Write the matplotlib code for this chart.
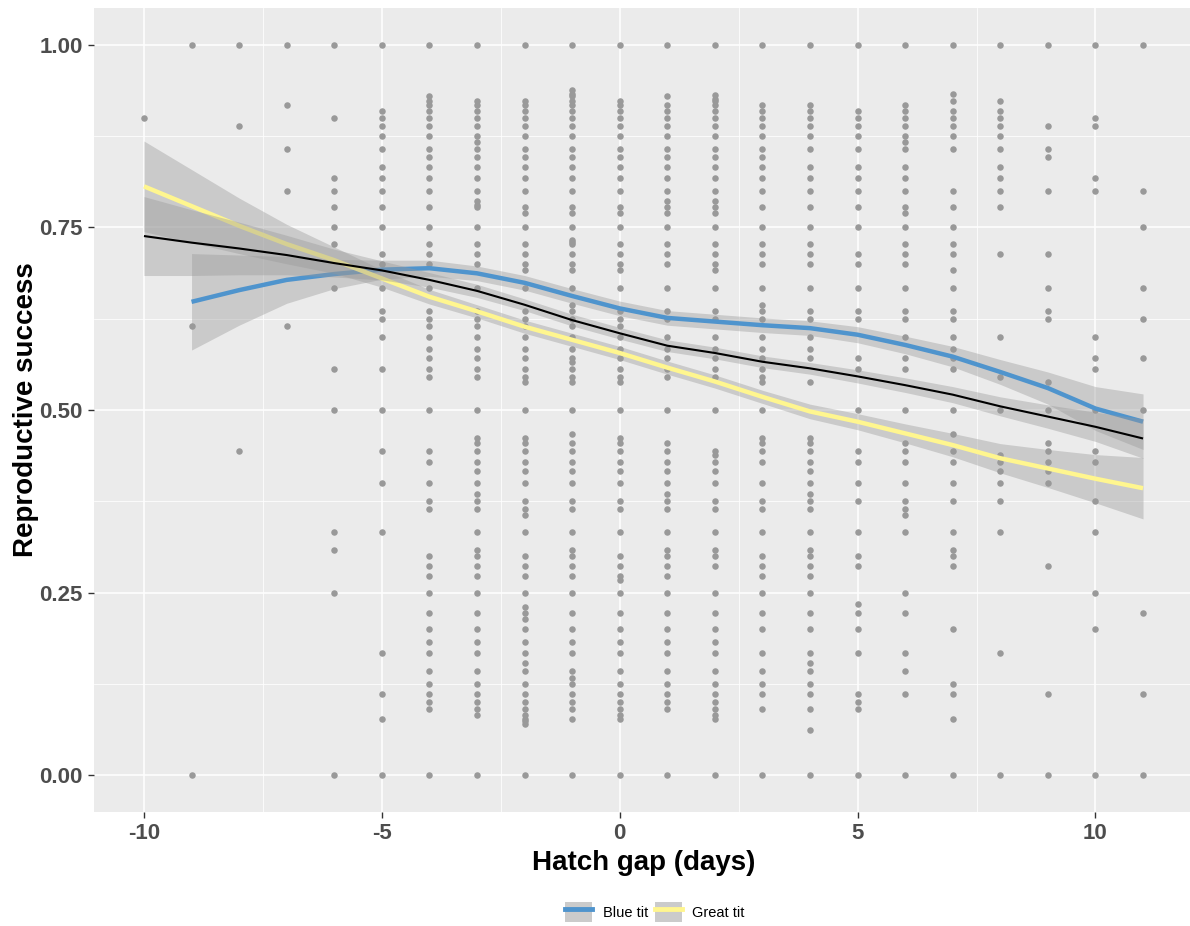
import numpy as np
import matplotlib
matplotlib.use('Agg')
import matplotlib.pyplot as plt
from matplotlib.patches import Patch
from matplotlib.lines import Line2D

plt.rcParams['font.family'] = ['Liberation Sans', 'DejaVu Sans']
plt.rcParams['axes.unicode_minus'] = False

#--------------------------------------------------------------------------------------------
# Raw points: reproductive success for each hatch gap (days)
gap_m10 = [0.9]
gap_m9 = [1.0, 0.615, 0.0]
gap_m8 = [1.0, 0.889, 0.444]
gap_m7 = [1.0, 0.917, 0.857, 0.8, 0.615]
gap_m6 = [1.0, 0.9, 0.818, 0.8, 0.778, 0.75, 0.727, 0.667, 0.556, 0.5, 0.333, 0.308, 0.25, 0.0]
gap_m5 = [1.0, 0.909, 0.9, 0.889, 0.875, 0.857, 0.833, 0.818, 0.8, 0.778, 0.75, 0.714, 0.7, 0.667,
          0.636, 0.625, 0.6, 0.556, 0.5, 0.444, 0.4, 0.333, 0.167, 0.111, 0.077, 0.0]
gap_m4 = [1.0, 0.929, 0.923, 0.917, 0.909, 0.9, 0.889, 0.875, 0.857, 0.846, 0.833, 0.818, 0.8, 0.778,
          0.75, 0.727, 0.714, 0.7, 0.667, 0.636, 0.625, 0.615, 0.6, 0.583, 0.571, 0.556, 0.545, 0.5,
          0.444, 0.429, 0.4, 0.375, 0.364, 0.3, 0.286, 0.273, 0.25, 0.222, 0.2, 0.182, 0.167, 0.143,
          0.125, 0.111, 0.1, 0.091, 0.0]
gap_m3 = [1.0, 0.923, 0.917, 0.909, 0.9, 0.889, 0.875, 0.867, 0.857, 0.846, 0.833, 0.818, 0.8, 0.786,
          0.78, 0.778, 0.75, 0.727, 0.714, 0.7, 0.667, 0.636, 0.625, 0.615, 0.6, 0.583, 0.571, 0.556,
          0.545, 0.5, 0.462, 0.455, 0.444, 0.429, 0.417, 0.4, 0.385, 0.375, 0.364, 0.333, 0.308, 0.3,
          0.286, 0.273, 0.25, 0.222, 0.2, 0.182, 0.167, 0.143, 0.125, 0.111, 0.1, 0.091, 0.083, 0.0]
gap_m2 = [1.0, 0.923, 0.917, 0.909, 0.9, 0.889, 0.875, 0.857, 0.846, 0.833, 0.818, 0.8, 0.778, 0.769,
          0.75, 0.727, 0.714, 0.7, 0.692, 0.667, 0.636, 0.625, 0.615, 0.6, 0.583, 0.571, 0.556, 0.545,
          0.538, 0.5, 0.462, 0.455, 0.444, 0.429, 0.417, 0.4, 0.375, 0.364, 0.357, 0.333, 0.3, 0.286,
          0.273, 0.25, 0.231, 0.222, 0.214, 0.2, 0.182, 0.167, 0.154, 0.143, 0.125, 0.111, 0.1, 0.091,
          0.083, 0.077, 0.074, 0.071, 0.0]
gap_m1 = [1.0, 0.938, 0.933, 0.929, 0.923, 0.917, 0.909, 0.9, 0.889, 0.875, 0.857, 0.846, 0.833, 0.818,
          0.8, 0.778, 0.769, 0.75, 0.733, 0.73, 0.727, 0.714, 0.7, 0.692, 0.667, 0.643, 0.636, 0.625,
          0.615, 0.6, 0.583, 0.571, 0.565, 0.556, 0.545, 0.538, 0.5, 0.467, 0.455, 0.444, 0.429, 0.417,
          0.4, 0.375, 0.364, 0.333, 0.308, 0.3, 0.286, 0.273, 0.25, 0.222, 0.2, 0.182, 0.167, 0.143,
          0.133, 0.125, 0.111, 0.1, 0.091, 0.077, 0.0]
gap_0 = [1.0, 0.923, 0.917, 0.909, 0.9, 0.889, 0.875, 0.857, 0.846, 0.833, 0.818, 0.8, 0.778, 0.769,
         0.75, 0.727, 0.714, 0.7, 0.692, 0.667, 0.636, 0.625, 0.615, 0.6, 0.583, 0.571, 0.556, 0.545,
         0.538, 0.5, 0.462, 0.455, 0.444, 0.429, 0.417, 0.4, 0.375, 0.364, 0.333, 0.3, 0.286, 0.273,
         0.267, 0.25, 0.222, 0.2, 0.182, 0.167, 0.143, 0.125, 0.111, 0.1, 0.091, 0.083, 0.077, 0.0]
gap_1 = [1.0, 0.929, 0.917, 0.909, 0.9, 0.889, 0.875, 0.857, 0.846, 0.833, 0.818, 0.8, 0.786, 0.778,
         0.769, 0.75, 0.727, 0.714, 0.7, 0.667, 0.636, 0.625, 0.6, 0.583, 0.571, 0.556, 0.545, 0.5,
         0.455, 0.444, 0.429, 0.417, 0.4, 0.385, 0.375, 0.364, 0.333, 0.308, 0.3, 0.286, 0.273, 0.25,
         0.222, 0.2, 0.182, 0.167, 0.143, 0.125, 0.111, 0.1, 0.091, 0.0]
gap_2 = [1.0, 0.931, 0.926, 0.923, 0.917, 0.909, 0.9, 0.889, 0.875, 0.857, 0.846, 0.833, 0.818, 0.8,
         0.786, 0.778, 0.769, 0.75, 0.727, 0.714, 0.7, 0.692, 0.667, 0.636, 0.625, 0.6, 0.583, 0.571,
         0.556, 0.545, 0.5, 0.444, 0.438, 0.429, 0.417, 0.4, 0.375, 0.364, 0.333, 0.308, 0.3, 0.286,
         0.25, 0.222, 0.2, 0.182, 0.167, 0.143, 0.125, 0.111, 0.1, 0.091, 0.083, 0.077, 0.0]
gap_3 = [1.0, 0.917, 0.909, 0.9, 0.889, 0.875, 0.857, 0.846, 0.833, 0.818, 0.8, 0.778, 0.75, 0.727,
         0.714, 0.7, 0.667, 0.643, 0.636, 0.625, 0.6, 0.583, 0.571, 0.556, 0.545, 0.538, 0.5, 0.462,
         0.455, 0.444, 0.429, 0.4, 0.375, 0.364, 0.333, 0.3, 0.286, 0.273, 0.25, 0.222, 0.2, 0.167,
         0.143, 0.125, 0.111, 0.091, 0.0]
gap_4 = [1.0, 0.917, 0.909, 0.9, 0.889, 0.875, 0.857, 0.833, 0.818, 0.8, 0.778, 0.75, 0.727, 0.714,
         0.7, 0.667, 0.636, 0.625, 0.6, 0.583, 0.571, 0.538, 0.462, 0.455, 0.444, 0.429, 0.417, 0.4,
         0.385, 0.375, 0.364, 0.333, 0.308, 0.3, 0.286, 0.273, 0.25, 0.222, 0.2, 0.167, 0.154, 0.143,
         0.125, 0.111, 0.091, 0.0625, 0.0]
gap_5 = [1.0, 0.909, 0.9, 0.889, 0.875, 0.857, 0.833, 0.818, 0.8, 0.778, 0.75, 0.714, 0.7, 0.667,
         0.636, 0.625, 0.571, 0.556, 0.5, 0.444, 0.429, 0.4, 0.375, 0.333, 0.3, 0.286, 0.235, 0.222,
         0.2, 0.167, 0.111, 0.1, 0.091, 0.0]
gap_6 = [1.0, 0.917, 0.909, 0.9, 0.889, 0.875, 0.867, 0.857, 0.833, 0.818, 0.8, 0.778, 0.769, 0.75,
         0.727, 0.714, 0.7, 0.667, 0.636, 0.625, 0.6, 0.571, 0.556, 0.5, 0.455, 0.444, 0.429, 0.4,
         0.375, 0.364, 0.357, 0.333, 0.25, 0.222, 0.167, 0.143, 0.111, 0.0]
gap_7 = [1.0, 0.933, 0.923, 0.909, 0.9, 0.889, 0.875, 0.857, 0.8, 0.778, 0.75, 0.727, 0.714, 0.692,
         0.667, 0.636, 0.625, 0.6, 0.583, 0.571, 0.556, 0.5, 0.467, 0.444, 0.429, 0.4, 0.375, 0.333,
         0.308, 0.3, 0.286, 0.2, 0.125, 0.111, 0.077, 0.0]
gap_8 = [1.0, 0.923, 0.909, 0.9, 0.889, 0.875, 0.857, 0.833, 0.818, 0.8, 0.778, 0.714, 0.6, 0.545,
         0.5, 0.438, 0.429, 0.417, 0.4, 0.375, 0.333, 0.167, 0.0]
gap_9 = [1.0, 0.889, 0.857, 0.846, 0.8, 0.714, 0.667, 0.636, 0.625, 0.538, 0.5, 0.455, 0.444, 0.429,
         0.417, 0.4, 0.286, 0.111, 0.0]
gap_10 = [1.0, 0.9, 0.889, 0.818, 0.8, 0.6, 0.571, 0.556, 0.5, 0.444, 0.429, 0.375, 0.333, 0.25, 0.2, 0.0]
gap_11 = [1.0, 0.8, 0.75, 0.667, 0.625, 0.571, 0.5, 0.222, 0.111, 0.0]

gaps = list(range(-10, 12))
columns = [gap_m10, gap_m9, gap_m8, gap_m7, gap_m6, gap_m5, gap_m4, gap_m3, gap_m2, gap_m1, gap_0,
           gap_1, gap_2, gap_3, gap_4, gap_5, gap_6, gap_7, gap_8, gap_9, gap_10, gap_11]

#--------------------------------------------------------------------------------------------
# Smoothed fits (read at each whole day) and half-widths of their confidence bands
fit_x_all = list(range(-10, 12))
fit_all = [0.738, 0.729, 0.721, 0.712, 0.701, 0.691, 0.678, 0.663, 0.644, 0.623, 0.605, 0.588,
           0.578, 0.566, 0.557, 0.546, 0.534, 0.521, 0.505, 0.491, 0.477, 0.461]
ci_all = [0.054, 0.045, 0.036, 0.027, 0.019, 0.013, 0.010, 0.009, 0.008, 0.008, 0.008, 0.008,
          0.008, 0.008, 0.008, 0.009, 0.010, 0.011, 0.013, 0.016, 0.020, 0.027]

fit_x_blue = list(range(-9, 12))
fit_blue = [0.648, 0.664, 0.678, 0.686, 0.692, 0.694, 0.687, 0.674, 0.656, 0.639, 0.626, 0.621,
            0.616, 0.612, 0.603, 0.589, 0.573, 0.552, 0.530, 0.502, 0.484]
ci_blue = [0.066, 0.048, 0.032, 0.020, 0.013, 0.011, 0.010, 0.010, 0.010, 0.010, 0.010, 0.010,
           0.010, 0.010, 0.011, 0.012, 0.014, 0.017, 0.022, 0.030, 0.038]

fit_x_great = list(range(-10, 12))
fit_great = [0.806, 0.779, 0.752, 0.727, 0.705, 0.680, 0.655, 0.635, 0.614, 0.596, 0.578, 0.558,
             0.539, 0.518, 0.498, 0.484, 0.468, 0.452, 0.434, 0.420, 0.406, 0.393]
ci_great = [0.062, 0.050, 0.038, 0.027, 0.018, 0.012, 0.010, 0.009, 0.009, 0.009, 0.009, 0.009,
            0.009, 0.009, 0.010, 0.011, 0.013, 0.016, 0.020, 0.026, 0.033, 0.042]

species = ['Blue tit', 'Great tit']

#--------------------------------------------------------------------------------------------
# Colors (ggplot grey theme)
panel_bg = '#EBEBEB'
point_col = '#999999'
band_col = '#999999'
blue_col = '#4F94CD'
great_col = '#FFF68F'
tick_col = '#4D4D4D'

fig = plt.figure(figsize=(11.9, 9.26), dpi=100)
ax = fig.add_axes([94/1190, 1 - 812/926, (1193 - 94)/1190, (812 - 8)/926])
ax.set_facecolor(panel_bg)

# Grid lines
ax.set_xticks([-10, -5, 0, 5, 10])
ax.set_xticks([-7.5, -2.5, 2.5, 7.5], minor=True)
ax.set_yticks([0, 0.25, 0.5, 0.75, 1.0])
ax.set_yticks([0.125, 0.375, 0.625, 0.875], minor=True)
ax.grid(which='major', color='white', linewidth=1.1)
ax.grid(which='minor', color='white', linewidth=0.55)
ax.set_axisbelow(True)
for s in ax.spines.values():
    s.set_visible(False)

# Scatter points
xs = np.concatenate([[g]*len(c) for g, c in zip(gaps, columns)])
ys = np.concatenate(columns)
ax.scatter(xs, ys, s=22, color=point_col, linewidths=0, zorder=2)

# Smoothed lines with confidence ribbons
def smooth_layer(x, y, ci, color, lw, z):
    x = np.array(x); y = np.array(y); ci = np.array(ci)
    ax.fill_between(x, y - ci, y + ci, color=band_col, alpha=0.4, linewidth=0, zorder=z)
    ax.plot(x, y, color=color, linewidth=lw, zorder=z + 0.5, solid_capstyle='butt')

smooth_layer(fit_x_blue, fit_blue, ci_blue, blue_col, 3.2, 3)
smooth_layer(fit_x_great, fit_great, ci_great, great_col, 3.2, 4)
smooth_layer(fit_x_all, fit_all, ci_all, 'black', 1.5, 5)

ax.set_xlim(-11.05, 12.05)
ax.set_ylim(-0.05, 1.05)
ax.set_yticklabels(['0.00', '0.25', '0.50', '0.75', '1.00'])

ax.tick_params(which='major', length=4, width=1.0, color='#333333', labelcolor=tick_col,
               labelsize=16, pad=4)
ax.tick_params(which='minor', length=0)
for lab in ax.get_xticklabels() + ax.get_yticklabels():
    lab.set_fontweight('bold')

ax.set_xlabel('Hatch gap (days)', fontsize=20, fontweight='bold', labelpad=4)
ax.set_ylabel('Reproductive success', fontsize=20, fontweight='bold', labelpad=0)

# Legend at the bottom
handles = [(Patch(facecolor='#CBCBCB', edgecolor='none'), Line2D([], [], color=blue_col, linewidth=3.5)),
           (Patch(facecolor='#CBCBCB', edgecolor='none'), Line2D([], [], color=great_col, linewidth=3.5))]
fig.legend(handles, species, loc='center', bbox_to_anchor=(655/1190, 1 - 912/926), ncol=2,
           frameon=False, fontsize=10.5, handlelength=1.85, handleheight=1.75, columnspacing=0.5,
           handletextpad=0.7)

plt.savefig('out.png', dpi=100)
